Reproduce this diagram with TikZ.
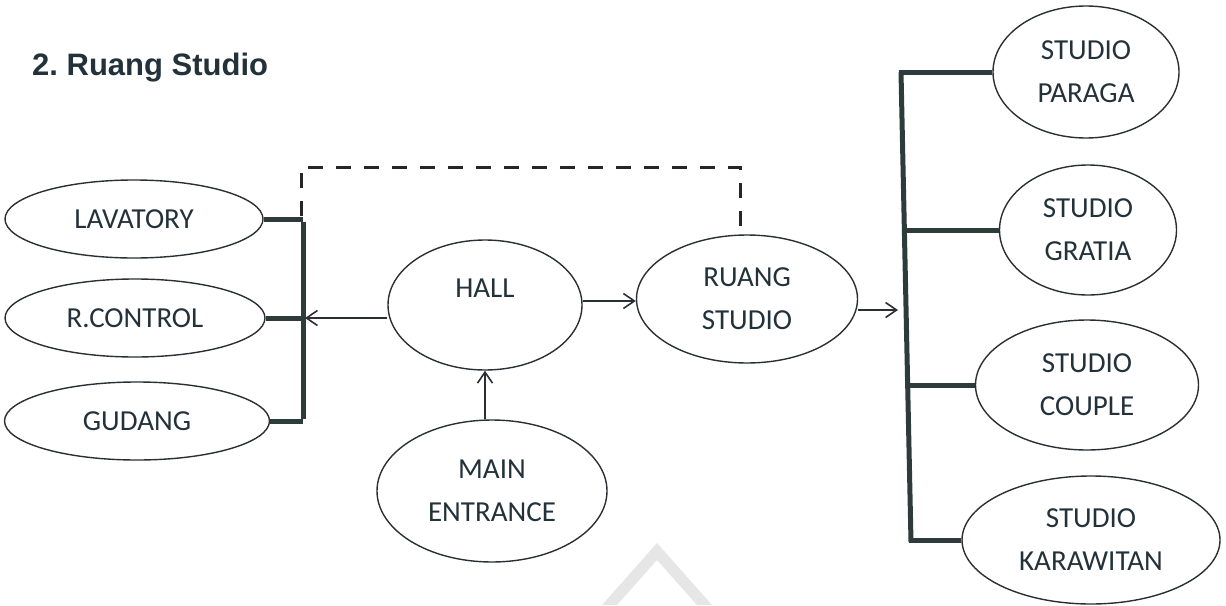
\documentclass[tikz,border=0pt]{standalone}
\usepackage{fontspec}
\setmainfont{Carlito}
\newfontfamily\titlefont{Liberation Sans}
\usetikzlibrary{shapes.geometric,arrows.meta}
\definecolor{txt}{HTML}{23323A}
\definecolor{edge}{HTML}{2B2F33}
\definecolor{bar}{HTML}{2E3B3B}
\definecolor{wm}{HTML}{E6E6E6}
\begin{document}
\begin{tikzpicture}[x=1pt,y=-1pt,
  oval/.style={ellipse,draw=edge,line width=1.4pt,inner sep=0pt,
    text=txt,font=\fontsize{29}{43}\selectfont,align=center},
  barline/.style={draw=bar,line width=5pt},
  arr/.style={draw=edge,line width=1.6pt,-{Straight Barb[length=11pt,width=15pt,line width=1.6pt]}},
  dashline/.style={draw=black!85,line width=3pt,dash pattern=on 15pt off 13pt}]
\useasboundingbox (0,0) rectangle (1226,605);
% watermark
\fill[wm] (657,543) -- (712,605) -- (697,605) -- (657,560) -- (617,605) -- (602,605) -- cycle;
% title
\node[anchor=base west,text=txt,font=\titlefont\bfseries\fontsize{31}{36}\selectfont,inner sep=0pt] (title) at (32,75) {2.\ Ruang Studio};
% left nodes
\node[oval,minimum width=258pt,minimum height=78pt] (lav) at (134,219) {LAVATORY};
\node[oval,minimum width=260pt,minimum height=78pt] (rcon) at (135,318) {R.CONTROL};
\node[oval,minimum width=265pt,minimum height=78pt] (gud) at (137,421) {GUDANG};
% centre
\node[oval,minimum width=194pt,minimum height=130pt,label={[text=txt,font=\fontsize{29}{43}\selectfont,yshift=17pt]center:HALL}] (hall) at (485,305) {};
\node[oval,minimum width=221pt,minimum height=128pt] (rs) at (747,299) {RUANG\\STUDIO};
\node[oval,minimum width=230pt,minimum height=142pt] (me) at (492,491) {MAIN\\ENTRANCE};
% right nodes
\node[oval,minimum width=186pt,minimum height=132pt] (par) at (1086,72) {STUDIO\\PARAGA};
\node[oval,minimum width=177pt,minimum height=130pt] (gra) at (1088,230) {STUDIO\\GRATIA};
\node[oval,minimum width=223pt,minimum height=130pt] (cou) at (1087,385) {STUDIO\\COUPLE};
\node[oval,minimum width=258pt,minimum height=128pt] (kar) at (1091,540) {STUDIO\\KARAWITAN};
% left bracket
\coordinate (lbx) at (303,0);
\coordinate (lbtop) at (301,216);
\coordinate (dtl) at (301,167);
\coordinate (dtr) at (740,167);
\draw[barline] (lav.east) -- (lav.east -| lbx);
\draw[barline] (rcon.east) -- (rcon.east -| lbx);
\draw[barline] (gud.east) -- (gud.east -| lbx);
\draw[barline] ([yshift=-2.5pt]lav.east -| lbx) -- ([yshift=2.5pt]gud.east -| lbx);
% right bracket
\coordinate (rbt) at (901,72);
\coordinate (rbb) at (911,542);
\draw[barline] (rbt) -- (rbb);
\draw[barline] ([xshift=-2.5pt]rbt) -- (par.west);
\draw[barline] (903,230) -- (gra.west);
\draw[barline] (906,385) -- (cou.west);
\draw[barline] (909,540) -- (kar.west);
% arrows
\coordinate (hy) at (0,301);
\draw[arr] (hall.west |- rcon.east) -- ([xshift=2pt]rcon.east -| lbx);
\draw[arr] (hall.east |- hy) -- (rs.west |- hy);
\draw[arr] (hall.south |- me.north) -- (hall.south);
\coordinate (rbm) at (898,310);
\draw[arr] (rs.east |- rbm) -- (rbm);
% dashed link
\draw[dashline] (lbtop) -- (dtl) -- (dtr) -- (dtr |- rs.north);
\end{tikzpicture}
\end{document}
